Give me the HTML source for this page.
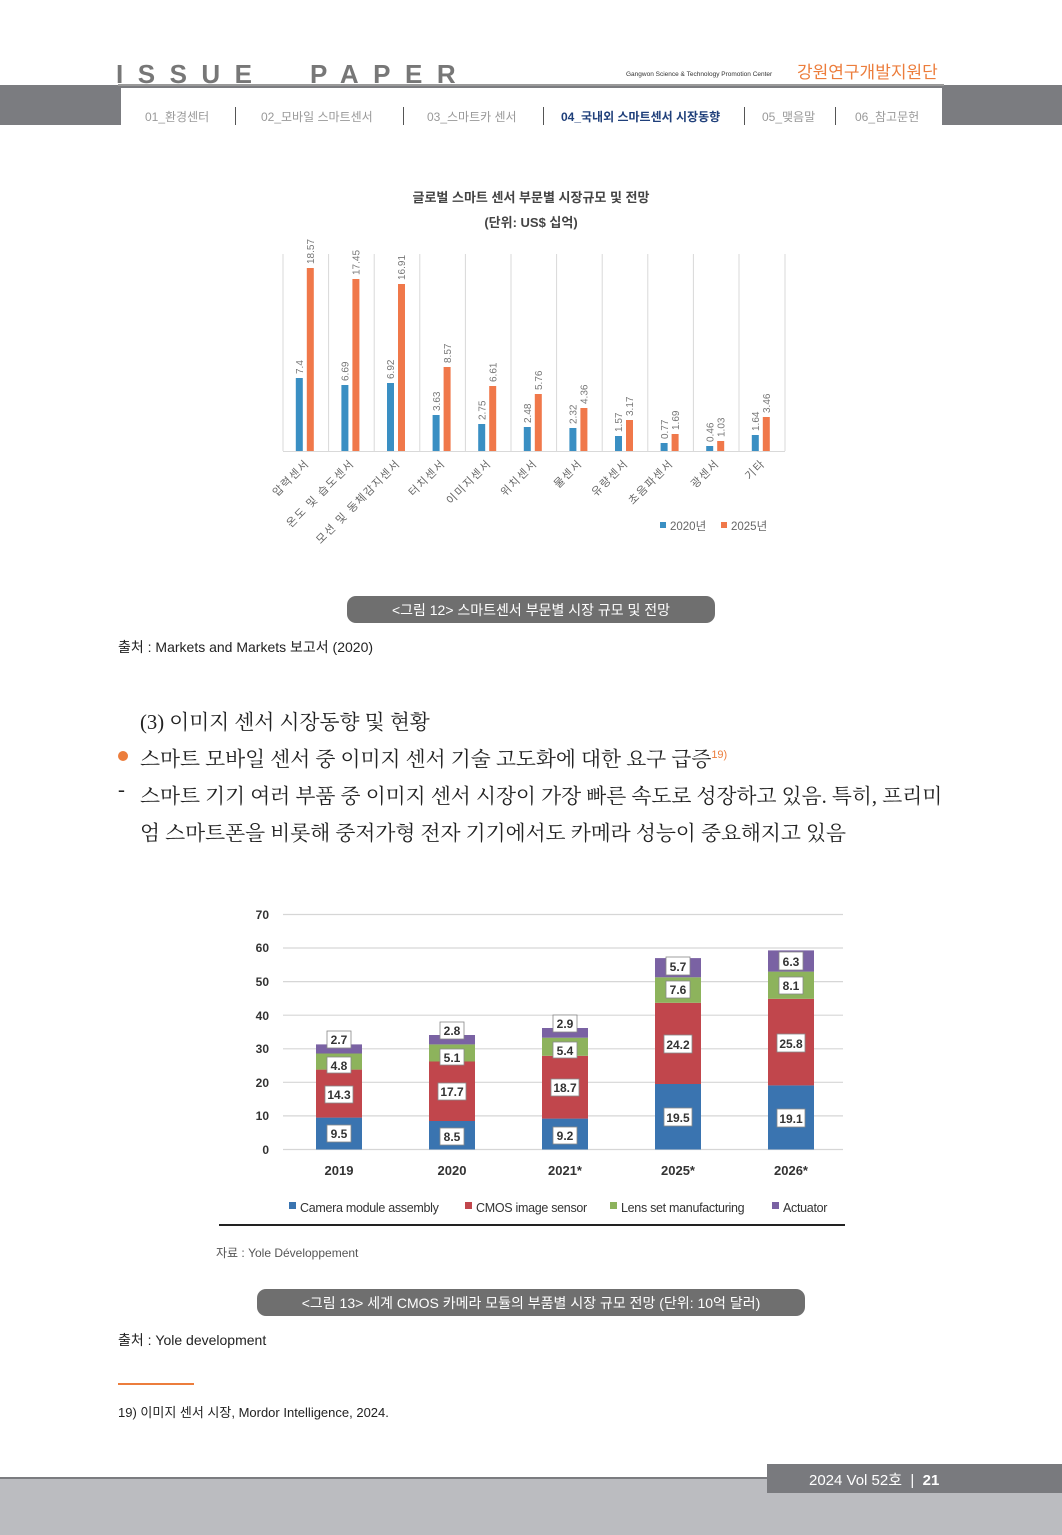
<!DOCTYPE html>
<html><head><meta charset="utf-8">
<style>
html,body{margin:0;padding:0;background:#fff;}
body{width:1062px;height:1535px;position:relative;overflow:hidden;font-family:"Liberation Sans","Noto Sans CJK KR",sans-serif;}
.a{position:absolute;white-space:nowrap;}
.ser{font-family:"Liberation Serif","Noto Serif CJK SC",serif;color:#222;font-size:20.7px;}
</style></head><body>
<!-- header -->
<div class="a" style="left:116px;top:59px;font-size:26px;letter-spacing:14.5px;color:#777;font-weight:bold;font-family:'Liberation Sans',sans-serif;">ISSUE&nbsp;&nbsp;PAPER</div>
<div class="a" style="left:626px;top:71px;font-size:6.5px;color:#333;">Gangwon Science &amp; Technology Promotion Center</div>
<div class="a" style="left:797px;top:58px;font-size:17px;color:#ec7d3c;">강원연구개발지원단</div>
<div class="a" style="left:0;top:85px;width:1062px;height:40px;background:#7b7c80;"></div>
<div class="a" style="left:121px;top:88px;width:821px;height:37px;background:#fff;"></div>
<div class="a" style="left:118px;top:84px;width:826px;height:2px;background:#9a9a9a;"></div>
<div class="a" style="left:145px;top:108px;font-size:12px;color:#999;">01_환경센터</div>
<div class="a" style="left:235px;top:107px;width:1px;height:18px;background:#555;"></div>
<div class="a" style="left:261px;top:108px;font-size:12px;color:#999;">02_모바일 스마트센서</div>
<div class="a" style="left:403px;top:107px;width:1px;height:18px;background:#555;"></div>
<div class="a" style="left:427px;top:108px;font-size:12px;color:#999;">03_스마트카 센서</div>
<div class="a" style="left:543px;top:107px;width:1px;height:18px;background:#555;"></div>
<div class="a" style="left:561px;top:108px;font-size:12px;color:#1f3f7a;font-weight:bold;">04_국내외 스마트센서 시장동향</div>
<div class="a" style="left:744px;top:107px;width:1px;height:18px;background:#555;"></div>
<div class="a" style="left:762px;top:108px;font-size:12px;color:#999;">05_맺음말</div>
<div class="a" style="left:835px;top:107px;width:1px;height:18px;background:#555;"></div>
<div class="a" style="left:855px;top:108px;font-size:12px;color:#999;">06_참고문헌</div>

<svg class="a" style="left:0;top:0" width="1062" height="1535" xmlns="http://www.w3.org/2000/svg" font-family="Liberation Sans, Noto Sans CJK KR, sans-serif">
<!-- chart 1 -->
<text x="531" y="202" text-anchor="middle" font-size="13" fill="#444" font-weight="bold">글로벌 스마트 센서 부문별 시장규모 및 전망</text>
<text x="531" y="227" text-anchor="middle" font-size="13" fill="#444" font-weight="bold">(단위: US$ 십억)</text>
<g stroke="#d9d9d9" stroke-width="1">
<line x1="283" y1="254" x2="283" y2="451"/><line x1="328.6" y1="254" x2="328.6" y2="451"/><line x1="374.2" y1="254" x2="374.2" y2="451"/><line x1="419.8" y1="254" x2="419.8" y2="451"/><line x1="465.4" y1="254" x2="465.4" y2="451"/><line x1="511" y1="254" x2="511" y2="451"/><line x1="556.6" y1="254" x2="556.6" y2="451"/><line x1="602.2" y1="254" x2="602.2" y2="451"/><line x1="647.8" y1="254" x2="647.8" y2="451"/><line x1="693.4" y1="254" x2="693.4" y2="451"/><line x1="739" y1="254" x2="739" y2="451"/><line x1="785" y1="254" x2="785" y2="451"/>
<line x1="283" y1="451.5" x2="785" y2="451.5"/>
</g>
<g fill="#3a8fc3">
<rect x="295.8" y="378" width="7" height="73"/><rect x="341.4" y="385" width="7" height="66"/><rect x="387" y="383" width="7" height="68"/><rect x="432.6" y="415" width="7" height="36"/><rect x="478.2" y="424" width="7" height="27"/><rect x="523.8" y="427" width="7" height="24"/><rect x="569.4" y="428" width="7" height="23"/><rect x="615" y="436" width="7" height="15"/><rect x="660.6" y="443" width="7" height="8"/><rect x="706.2" y="446" width="7" height="5"/><rect x="751.8" y="435" width="7" height="16"/>
</g>
<g fill="#f0784a">
<rect x="306.8" y="268" width="7" height="183"/><rect x="352.4" y="279" width="7" height="172"/><rect x="398" y="284" width="7" height="167"/><rect x="443.6" y="367" width="7" height="84"/><rect x="489.2" y="386" width="7" height="65"/><rect x="534.8" y="394" width="7" height="57"/><rect x="580.4" y="408" width="7" height="43"/><rect x="626" y="420" width="7" height="31"/><rect x="671.6" y="434" width="7" height="17"/><rect x="717.2" y="441" width="7" height="10"/><rect x="762.8" y="417" width="7" height="34"/>
</g>
<g font-size="10" fill="#777">
<text transform="translate(303,374) rotate(-90)">7.4</text><text transform="translate(314,264) rotate(-90)">18.57</text>
<text transform="translate(348.6,381) rotate(-90)">6.69</text><text transform="translate(359.6,275) rotate(-90)">17.45</text>
<text transform="translate(394.2,379) rotate(-90)">6.92</text><text transform="translate(405.2,280) rotate(-90)">16.91</text>
<text transform="translate(439.8,411) rotate(-90)">3.63</text><text transform="translate(450.8,363) rotate(-90)">8.57</text>
<text transform="translate(485.4,420) rotate(-90)">2.75</text><text transform="translate(496.4,382) rotate(-90)">6.61</text>
<text transform="translate(531,423) rotate(-90)">2.48</text><text transform="translate(542,390) rotate(-90)">5.76</text>
<text transform="translate(576.6,424) rotate(-90)">2.32</text><text transform="translate(587.6,404) rotate(-90)">4.36</text>
<text transform="translate(622.2,432) rotate(-90)">1.57</text><text transform="translate(633.2,416) rotate(-90)">3.17</text>
<text transform="translate(667.8,439) rotate(-90)">0.77</text><text transform="translate(678.8,430) rotate(-90)">1.69</text>
<text transform="translate(713.4,442) rotate(-90)">0.46</text><text transform="translate(724.4,437) rotate(-90)">1.03</text>
<text transform="translate(759,431) rotate(-90)">1.64</text><text transform="translate(770,413) rotate(-90)">3.46</text>
</g>
<g font-size="11" fill="#666" text-anchor="end" letter-spacing="1.5">
<text transform="translate(310,464) rotate(-45)">압력센서</text>
<text transform="translate(355,464) rotate(-45)">온도 및 습도센서</text>
<text transform="translate(401,464) rotate(-45)">모션 및 동체감지센서</text>
<text transform="translate(446,464) rotate(-45)">터치센서</text>
<text transform="translate(492,464) rotate(-45)">이미지센서</text>
<text transform="translate(538,464) rotate(-45)">위치센서</text>
<text transform="translate(583,464) rotate(-45)">물센서</text>
<text transform="translate(629,464) rotate(-45)">유량센서</text>
<text transform="translate(674,464) rotate(-45)">초음파센서</text>
<text transform="translate(720,464) rotate(-45)">광센서</text>
<text transform="translate(766,464) rotate(-45)">기타</text>
</g>
<rect x="660" y="522" width="6" height="6" fill="#3a8fc3"/><text x="670" y="530" font-size="11.5" fill="#666">2020년</text>
<rect x="721" y="522" width="6" height="6" fill="#f0784a"/><text x="731" y="530" font-size="11.5" fill="#666">2025년</text>
<rect x="347" y="596" width="368" height="27" rx="9" fill="#6f6f6f"/>
<text x="531" y="615" text-anchor="middle" font-size="14" fill="#fff">&lt;그림 12&gt; 스마트센서 부문별 시장 규모 및 전망</text>

<!-- chart 2 -->
<g stroke="#d6d6d6" stroke-width="1.2">
<line x1="283" y1="914.5" x2="843" y2="914.5"/><line x1="283" y1="948" x2="843" y2="948"/><line x1="283" y1="981.6" x2="843" y2="981.6"/><line x1="283" y1="1015.2" x2="843" y2="1015.2"/><line x1="283" y1="1048.8" x2="843" y2="1048.8"/><line x1="283" y1="1082.3" x2="843" y2="1082.3"/><line x1="283" y1="1115.9" x2="843" y2="1115.9"/><line x1="283" y1="1149.5" x2="843" y2="1149.5"/>
</g>
<g font-size="12" fill="#333" font-weight="bold" text-anchor="end">
<text x="269" y="919">70</text><text x="269" y="952">60</text><text x="269" y="986">50</text><text x="269" y="1020">40</text><text x="269" y="1053">30</text><text x="269" y="1087">20</text><text x="269" y="1120">10</text><text x="269" y="1154">0</text>
</g>
<g>
<rect x="316" y="1117.6" width="46" height="31.9" fill="#3a74b0"/><rect x="316" y="1069.6" width="46" height="48" fill="#c1464c"/><rect x="316" y="1053.5" width="46" height="16.1" fill="#8db35c"/><rect x="316" y="1044.4" width="46" height="9.1" fill="#7a62a3"/>
<rect x="429" y="1121" width="46" height="28.5" fill="#3a74b0"/><rect x="429" y="1061.5" width="46" height="59.5" fill="#c1464c"/><rect x="429" y="1044.4" width="46" height="17.1" fill="#8db35c"/><rect x="429" y="1035" width="46" height="9.4" fill="#7a62a3"/>
<rect x="542" y="1118.6" width="46" height="30.9" fill="#3a74b0"/><rect x="542" y="1055.8" width="46" height="62.8" fill="#c1464c"/><rect x="542" y="1037.7" width="46" height="18.1" fill="#8db35c"/><rect x="542" y="1028" width="46" height="9.7" fill="#7a62a3"/>
<rect x="655" y="1084" width="46" height="65.5" fill="#3a74b0"/><rect x="655" y="1002.8" width="46" height="81.2" fill="#c1464c"/><rect x="655" y="977.3" width="46" height="25.5" fill="#8db35c"/><rect x="655" y="958.1" width="46" height="19.2" fill="#7a62a3"/>
<rect x="768" y="1085.4" width="46" height="64.1" fill="#3a74b0"/><rect x="768" y="998.8" width="46" height="86.6" fill="#c1464c"/><rect x="768" y="971.6" width="46" height="27.2" fill="#8db35c"/><rect x="768" y="950.4" width="46" height="21.2" fill="#7a62a3"/>
</g>
<g fill="#fff" stroke="#888" stroke-width="0.8">
<rect x="327" y="1125" width="24" height="17"/><rect x="325" y="1086" width="28" height="17"/><rect x="327" y="1057" width="24" height="16"/><rect x="327" y="1031" width="24" height="17"/>
<rect x="440" y="1128" width="24" height="17"/><rect x="438" y="1083" width="28" height="17"/><rect x="440" y="1049" width="24" height="16"/><rect x="440" y="1022" width="24" height="17"/>
<rect x="553" y="1127" width="24" height="17"/><rect x="551" y="1079" width="28" height="17"/><rect x="553" y="1042" width="24" height="16"/><rect x="553" y="1015" width="24" height="17"/>
<rect x="664" y="1108" width="28" height="18"/><rect x="664" y="1035" width="28" height="18"/><rect x="666" y="981" width="24" height="17"/><rect x="666" y="957" width="24" height="18"/>
<rect x="777" y="1109" width="28" height="18"/><rect x="777" y="1034" width="28" height="18"/><rect x="779" y="977" width="24" height="17"/><rect x="779" y="952" width="24" height="18"/>
</g>
<g font-size="12" fill="#333" text-anchor="middle" font-weight="bold">
<text x="339" y="1138">9.5</text><text x="339" y="1099">14.3</text><text x="339" y="1070">4.8</text><text x="339" y="1044">2.7</text>
<text x="452" y="1141">8.5</text><text x="452" y="1096">17.7</text><text x="452" y="1062">5.1</text><text x="452" y="1035">2.8</text>
<text x="565" y="1140">9.2</text><text x="565" y="1092">18.7</text><text x="565" y="1055">5.4</text><text x="565" y="1028">2.9</text>
<text x="678" y="1122">19.5</text><text x="678" y="1049">24.2</text><text x="678" y="994">7.6</text><text x="678" y="971">5.7</text>
<text x="791" y="1123">19.1</text><text x="791" y="1048">25.8</text><text x="791" y="990">8.1</text><text x="791" y="966">6.3</text>
</g>
<g font-size="13" fill="#333" text-anchor="middle" font-weight="bold">
<text x="339" y="1175">2019</text><text x="452" y="1175">2020</text><text x="565" y="1175">2021*</text><text x="678" y="1175">2025*</text><text x="791" y="1175">2026*</text>
</g>
<g font-size="12.5" fill="#333">
<rect x="289" y="1202" width="7" height="7" fill="#3a74b0"/><text x="300" y="1212" letter-spacing="-0.3">Camera module assembly</text>
<rect x="465" y="1202" width="7" height="7" fill="#c1464c"/><text x="476" y="1212" letter-spacing="-0.3">CMOS image sensor</text>
<rect x="610" y="1202" width="7" height="7" fill="#8db35c"/><text x="621" y="1212" letter-spacing="-0.3">Lens set manufacturing</text>
<rect x="772" y="1202" width="7" height="7" fill="#7a62a3"/><text x="783" y="1212" letter-spacing="-0.3">Actuator</text>
</g>
<rect x="219" y="1224" width="626" height="2" fill="#222"/>
<text x="216" y="1257" font-size="12" fill="#555">자료 : Yole Développement</text>
<rect x="257" y="1289" width="548" height="27" rx="9" fill="#6f6f6f"/>
<text x="531" y="1308" text-anchor="middle" font-size="14" fill="#fff">&lt;그림 13&gt; 세계 CMOS 카메라 모듈의 부품별 시장 규모 전망 (단위: 10억 달러)</text>
</svg>

<div class="a" style="left:118px;top:637px;font-size:14px;color:#222;">출처 : Markets and Markets 보고서 (2020)</div>
<div class="a ser" style="left:140px;top:705px;">(3) 이미지 센서 시장동향 및 현황</div>
<div class="a" style="left:118px;top:751px;width:10px;height:10px;border-radius:50%;background:#ec7d3c;"></div>
<div class="a ser" style="left:140px;top:742px;">스마트 모바일 센서 중 이미지 센서 기술 고도화에 대한 요구 급증<sup style="font-size:11px;color:#ec7d3c;font-family:'Liberation Sans',sans-serif;">19)</sup></div>
<div class="a ser" style="left:118px;top:779px;">-</div>
<div class="a ser" style="left:140px;top:779px;">스마트 기기 여러 부품 중 이미지 센서 시장이 가장 빠른 속도로 성장하고 있음. 특히, 프리미</div>
<div class="a ser" style="left:140px;top:816px;">엄 스마트폰을 비롯해 중저가형 전자 기기에서도 카메라 성능이 중요해지고 있음</div>
<div class="a" style="left:118px;top:1330px;font-size:14px;color:#222;">출처 : Yole development</div>
<div class="a" style="left:118px;top:1383px;width:76px;height:2px;background:#ec7d3c;"></div>
<div class="a" style="left:118px;top:1402px;font-size:13px;color:#222;">19) 이미지 센서 시장, Mordor Intelligence, 2024.</div>

<!-- footer -->
<div class="a" style="left:0;top:1477px;width:1062px;height:58px;background:#bbbcc0;"></div>
<div class="a" style="left:0;top:1477px;width:1062px;height:2px;background:#7b7c80;"></div>
<div class="a" style="left:767px;top:1464px;width:295px;height:29px;background:#797a7e;"></div>
<div class="a" style="left:809px;top:1469px;font-size:15px;color:#fff;">2024 Vol 52호 &nbsp;|&nbsp; <b>21</b></div>
</body></html>
